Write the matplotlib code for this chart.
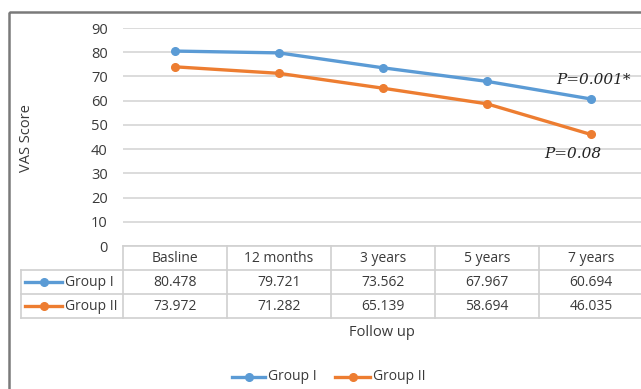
import numpy as np
import matplotlib.pyplot as plt
from matplotlib.patches import Rectangle

plt.rcParams['font.family'] = ['Open Sans', 'DejaVu Sans']

# data
follow_up = ['Basline', '12 months', '3 years', '5 years', '7 years']
group_1 = [80.478, 79.721, 73.562, 67.967, 60.694]
group_2 = [73.972, 71.282, 65.139, 58.694, 46.035]
series_names = ['Group I', 'Group II']
p_labels = ['P=0.001*', 'P=0.08']
y_ticks = list(range(0, 100, 10))

W, H = 641, 389
blue = '#5B9BD5'
orange = '#ED7D31'
txt = '#3A3A3A'
grid_c = '#D9D9D9'

fig = plt.figure(figsize=(W / 100, H / 100), dpi=100)

# plot area in pixels
left, right, top, bottom = 123, 643, 28, 246
ax = fig.add_axes([left / W, 1 - bottom / H, (right - left) / W, (bottom - top) / H])
x = np.arange(len(follow_up))
ax.set_xlim(-0.5, len(follow_up) - 0.5)
ax.set_ylim(0, 90)
ax.set_yticks(y_ticks)
ax.set_xticks([])
ax.tick_params(axis='y', length=0, pad=11, labelsize=10.5, labelcolor=txt)
ax.yaxis.grid(True, color=grid_c, lw=1.3)
ax.set_axisbelow(True)
for s in ax.spines.values():
    s.set_visible(False)

colors = [blue, orange]
for vals, c in zip([group_1, group_2], colors):
    ax.plot(x, vals, color=c, lw=2.4, marker='o', ms=5.5, clip_on=False, zorder=3)

# p-value notes at the last follow-up
ax.annotate(p_labels[0], (x[-1], group_1[-1]), xytext=(2, 19), textcoords='offset pixels',
            ha='center', va='center', fontsize=11, style='italic', family='DejaVu Serif', color='#222222')
ax.annotate(p_labels[1], (x[-1], group_2[-1]), xytext=(-18, -20), textcoords='offset pixels',
            ha='center', va='center', fontsize=11, style='italic', family='DejaVu Serif', color='#222222')

# overlay in pixel coordinates for the data table, labels and legend
ov = fig.add_axes([0, 0, 1, 1])
ov.set_xlim(0, W)
ov.set_ylim(H, 0)
ov.axis('off')

col_w = (right - left) / len(follow_up)
rows = [246, 270, 294, 318]
lab_left = 21
lc = '#D0D0D0'
ov.plot([left, W], [rows[0], rows[0]], color=lc, lw=1.2)
for r in rows[1:]:
    ov.plot([lab_left, W], [r, r], color=lc, lw=1.2)
ov.plot([lab_left, lab_left], [rows[1], rows[3]], color=lc, lw=1.2)
for i in range(len(follow_up)):
    xl = left + i * col_w
    ov.plot([xl, xl], [rows[0], rows[3]], color=lc, lw=1.2)

for i, name in enumerate(follow_up):
    cx = left + (i + 0.5) * col_w
    ov.text(cx, (rows[0] + rows[1]) / 2, name, ha='center', va='center', fontsize=10, color=txt)
    for j, vals in enumerate([group_1, group_2]):
        ov.text(cx, (rows[j + 1] + rows[j + 2]) / 2, f'{vals[i]:.3f}', ha='center', va='center',
                fontsize=10, color=txt)

for j, (name, c) in enumerate(zip(series_names, colors)):
    cy = (rows[j + 1] + rows[j + 2]) / 2
    ov.plot([25, 62], [cy, cy], color=c, lw=2.4)
    ov.plot([43.5], [cy], 'o', color=c, ms=5.5)
    ov.text(65, cy, name, ha='left', va='center', fontsize=10, color=txt)

ov.text(382, 333, 'Follow up', ha='center', va='center', fontsize=10.5, color=txt)
ov.text(27, 138, 'VAS Score', rotation=90, ha='center', va='center', fontsize=10.5, color=txt)

# bottom legend
for (x0, x1, tx), name, c in zip([(232, 265, 268), (335, 370, 373)], series_names, colors):
    ov.plot([x0, x1], [377, 377], color=c, lw=2.4)
    ov.plot([(x0 + x1) / 2], [377], 'o', color=c, ms=5.5)
    ov.text(tx, 377, name, ha='left', va='center', fontsize=10, color=txt)

# chart frame
ov.add_patch(Rectangle((9, 12), W, H, fill=False, edgecolor='#7A7A7A', lw=1.8))

fig.savefig('out.png', dpi=100, facecolor='white')
